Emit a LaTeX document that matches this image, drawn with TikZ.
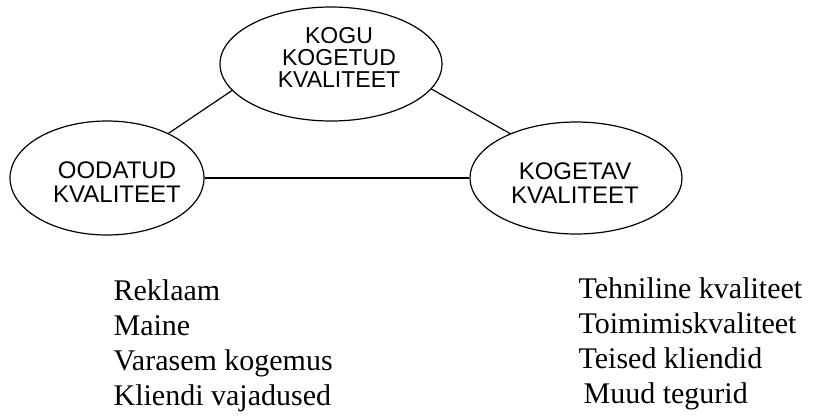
\documentclass[tikz,border=0pt]{standalone}
\usepackage{fontspec}
\setmainfont{Liberation Serif}
\newfontfamily\ovalfont{Liberation Sans}
\usetikzlibrary{shapes.geometric}
\begin{document}
\begin{tikzpicture}[x=1pt, y=-1pt, line width=1.2pt,
  oval/.style={draw, ellipse, inner sep=0pt},
  ovaltext/.style={font=\ovalfont\fontsize{24}{23.5}\selectfont, align=center, inner sep=0pt},
  listtext/.style={font=\fontsize{30}{35}\selectfont, align=left, anchor=north west, inner sep=0pt}]
  \useasboundingbox (0, 0) rectangle (819, 416);
  \node[oval, minimum width=222pt, minimum height=114pt] (kogu) at (331, 64) {};
  \node[oval, minimum width=194pt, minimum height=114pt] (oodatud) at (107, 178) {};
  \node[oval, minimum width=212pt, minimum height=112pt] (kogetav) at (576, 178) {};
  \node[ovaltext, font=\ovalfont\fontsize{23}{22}\selectfont] (kogutxt) at (339, 57) {KOGU\\KOGETUD\\KVALITEET};
  \node[ovaltext] (oodatudtxt) at (117, 182) {OODATUD\\KVALITEET};
  \node[ovaltext] (kogetavtxt) at (575, 183) {KOGETAV\\KVALITEET};
  \draw (kogu.195) -- (oodatud.36);
  \draw (kogu.346) -- (kogetav.146);
  \draw (oodatud) -- (kogetav);
  \node[listtext] (ootused) at (113, 279) {Reklaam\\Maine\\Varasem kogemus\\Kliendi vajadused};
  \node[listtext] (kogemus) at (578, 277) {Tehniline kvaliteet\\Toimimiskvaliteet\\Teised kliendid\\\hspace*{5pt}Muud tegurid};
\end{tikzpicture}
\end{document}
